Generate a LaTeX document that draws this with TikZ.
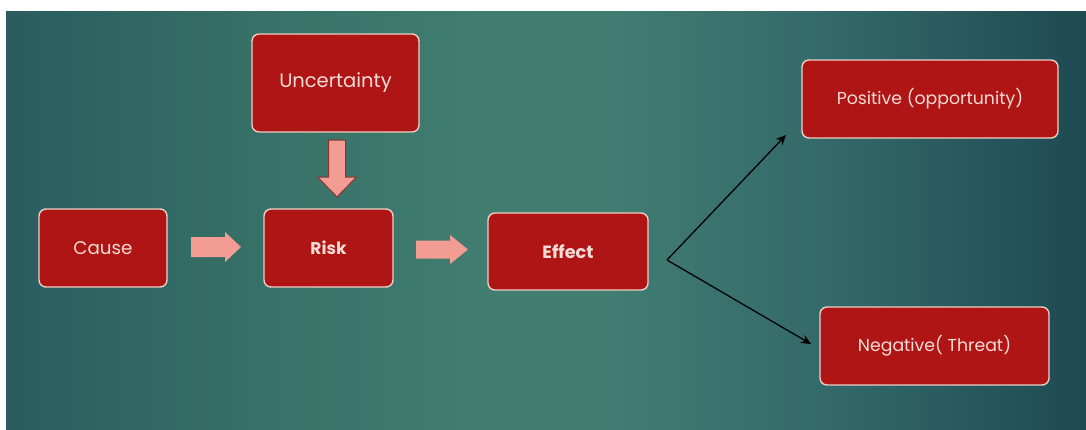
\documentclass[tikz,border=0pt]{standalone}
\usepackage{fontspec}
\setmainfont{Poppins}
\usetikzlibrary{arrows.meta}
\definecolor{boxred}{HTML}{B01515}
\definecolor{boxedge}{HTML}{EBCFC6}
\definecolor{txt}{HTML}{F5DCD6}
\definecolor{salmon}{HTML}{F29C94}
\definecolor{salmonedge}{HTML}{8A3434}
\definecolor{bgleft}{HTML}{2A5C5F}
\definecolor{bgc2}{HTML}{377167}
\definecolor{bgmid}{HTML}{417D71}
\definecolor{bgc4}{HTML}{33696A}
\definecolor{bgright}{HTML}{1E4A52}
\pgfdeclarehorizontalshading{bgshade}{100bp}{color(0bp)=(bgleft); color(25bp)=(bgleft); color(37bp)=(bgc2); color(47bp)=(bgmid); color(53bp)=(bgmid); color(63bp)=(bgc4); color(75bp)=(bgright); color(100bp)=(bgright)}
\tikzset{
  box/.style={draw=boxedge, line width=1.4pt, fill=boxred, rounded corners=7pt,
    text=txt, inner sep=0pt, align=center},
  blockarrow/.style={fill=salmon},
  thinarrow/.style={draw=black, line width=1.3pt, -{Stealth[length=10pt,width=9pt]}}
}
\begin{document}
\begin{tikzpicture}[x=1pt,y=-1pt]
\useasboundingbox (0,0) rectangle (1086,429);
\fill[white] (0,0) rectangle (1086,429);
\shade[shading=bgshade] (6,11) rectangle (1086,429);

\node[box, minimum width=167pt, minimum height=98pt, font=\fontsize{19.5}{22}\selectfont] (unc) at (335.5,83) {Uncertainty};
\node[box, minimum width=128pt, minimum height=78pt, font=\fontsize{18.3}{21}\selectfont] (cause) at (103,248) {Cause};
\node[box, minimum width=129pt, minimum height=78pt, font=\fontsize{17}{20}\selectfont\bfseries] (risk) at (328.5,248) {Risk};
\node[box, minimum width=160pt, minimum height=77pt, font=\fontsize{17.7}{20}\selectfont\bfseries] (effect) at (568,251.5) {Effect};
\node[box, minimum width=256pt, minimum height=78pt, font=\fontsize{17.3}{20}\selectfont] (pos) at (930,99) {Positive (opportunity)};
\node[box, minimum width=229pt, minimum height=78pt, font=\fontsize{17.3}{20}\selectfont] (neg) at (934.5,346) {Negative( Threat)};

% block arrows
\fill[blockarrow, shift={(191,247)}] (0,-10)--(34,-10)--(34,-15)--(50,0)--(34,15)--(34,10)--(0,10)--cycle;
\fill[blockarrow, shift={(416,249.5)}] (0,-9)--(34,-9)--(34,-14.5)--(52,0)--(34,14.5)--(34,9)--(0,9)--cycle;
\filldraw[blockarrow, draw=salmonedge, line width=1pt, shift={(337,140)}] (-8.5,0)--(8.5,0)--(8.5,37)--(19.5,37)--(0,57)--(-19.5,37)--(-8.5,37)--cycle;

% branching lines
\coordinate (v) at (667,260);
\coordinate (ptip) at (786,135);
\coordinate (ntip) at (811,344);
\draw[thinarrow] (v) -- (ptip);
\draw[thinarrow] (v) -- (ntip);
\end{tikzpicture}
\end{document}
